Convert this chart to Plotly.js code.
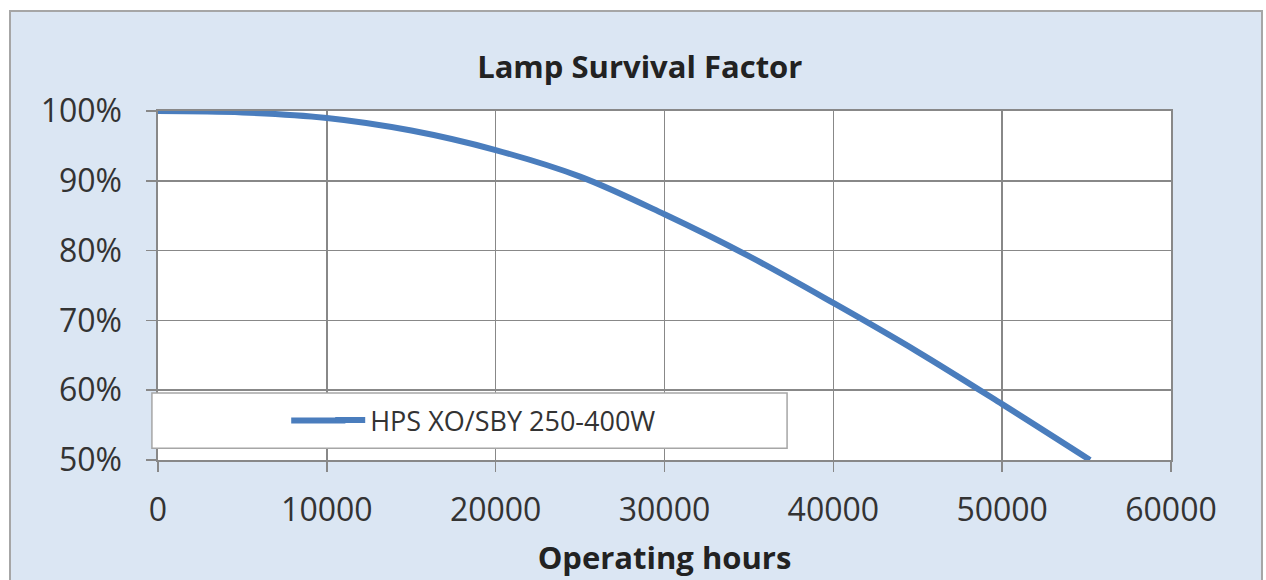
<!DOCTYPE html>
<html><head><meta charset="utf-8">
<script src="https://cdn.plot.ly/plotly-3.0.1.min.js"></script>
<style>
html,body{margin:0;padding:0;background:#fff;width:1266px;height:580px;overflow:hidden}
#frame{position:absolute;left:9px;top:10px;width:1250px;height:580px;border:2px solid #a6a6a6;border-bottom:none;background:#dbe6f3}
#chart{width:1250px;height:580px}
</style></head><body>
<div id="frame"><div id="chart"></div></div>
<script>
const seriesName = 'HPS XO/SBY 250-400W';
const hours = [0, 5000, 10000, 15000, 20000, 25000, 30000, 35000, 40000, 45000, 50000, 55200];
const survival = [100, 99.8, 99.0, 97.2, 94.4, 90.6, 85.2, 79.2, 72.5, 65.5, 58.0, 50.0];
const xTicks = [0, 10000, 20000, 30000, 40000, 50000, 60000];
const yTicks = [50, 60, 70, 80, 90, 100];

const font = "'Open Sans', sans-serif";
const blue = '#4a7dbd';
const grid = '#888888';
const txt = '#333333';

const trace = {
  x: hours, y: survival, type: 'scatter', mode: 'lines', name: seriesName,
  line: {color: blue, width: 6, shape: 'spline', smoothing: 1},
  cliponaxis: false, hoverinfo: 'skip'
};

const layout = {
  width: 1250, height: 580,
  margin: {l: 147, r: 90, t: 99, b: 132},
  paper_bgcolor: 'rgba(0,0,0,0)', plot_bgcolor: '#ffffff',
  font: {family: font, color: txt, size: 32},
  title: {text: '<b>Lamp Survival Factor</b>', font: {family: font, size: 31, color: '#222222'},
          xref: 'container', yref: 'container', x: 0.503, y: 0.905, xanchor: 'center', yanchor: 'middle'},
  xaxis: {
    range: [0, 60000], tickvals: xTicks, ticktext: xTicks.map(String),
    showgrid: true, gridcolor: grid, gridwidth: 1.6,
    showline: true, linecolor: grid, linewidth: 1.6, mirror: true,
    ticks: 'outside', ticklen: 10, tickcolor: grid, tickwidth: 1.6,
    ticklabelstandoff: 11, zeroline: false,
    tickfont: {family: font, size: 32, color: txt},
    title: {text: '<b>Operating hours</b>', font: {family: font, size: 31, color: '#222222'}, standoff: 18}
  },
  yaxis: {
    range: [50, 100], tickvals: yTicks, ticktext: yTicks.map(v => v + '%'),
    showgrid: true, gridcolor: grid, gridwidth: 1.6,
    showline: true, linecolor: grid, linewidth: 1.6, mirror: true,
    ticks: 'outside', ticklen: 10, tickcolor: grid, tickwidth: 1.6,
    ticklabelstandoff: 18, zeroline: false,
    tickfont: {family: font, size: 32, color: txt}
  },
  showlegend: true,
  legend: {x: 0.17, y: 0.113, xanchor: 'left', yanchor: 'middle', bgcolor: 'rgba(0,0,0,0)',
           font: {family: font, size: 27, color: txt}, itemwidth: 30},
  shapes: [
    {type: 'rect', xref: 'paper', yref: 'paper', x0: -0.006, x1: 0.621, y0: 0.034, y1: 0.192,
     fillcolor: '#ffffff', line: {color: '#a6a6a6', width: 1.5}, layer: 'above'},
    {type: 'line', xref: 'paper', yref: 'paper', x0: 0.1315, x1: 0.185, y0: 0.113, y1: 0.113,
     line: {color: blue, width: 6}, layer: 'above'}
  ]
};

Plotly.newPlot('chart', [trace], layout, {staticPlot: true, displayModeBar: false});
</script></body></html>
